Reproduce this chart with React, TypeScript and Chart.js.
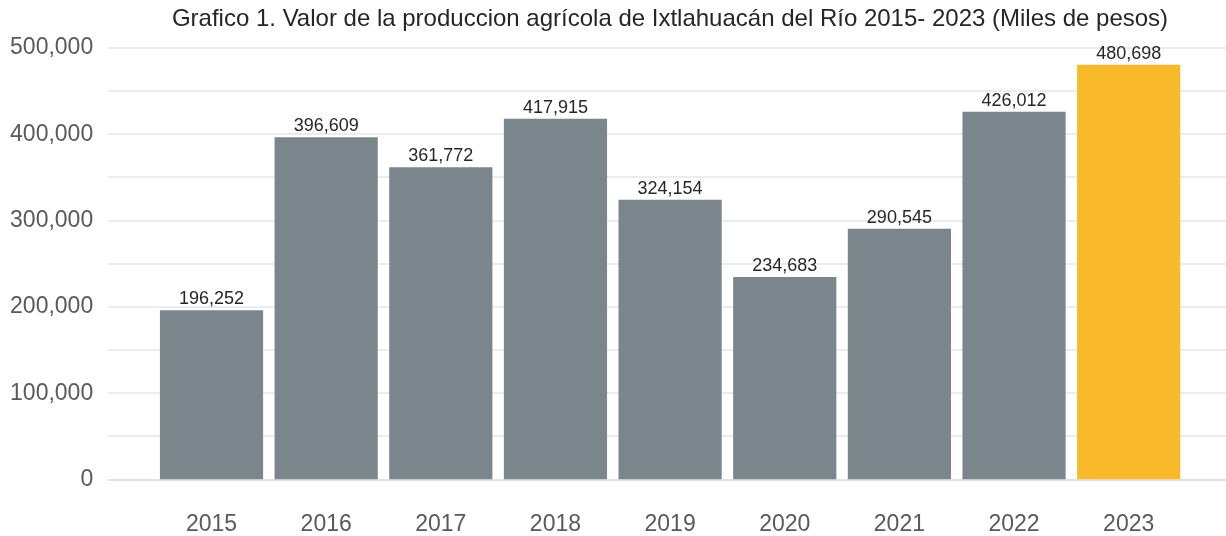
import React, { useEffect, useRef } from "react";
import { Chart, registerables } from "chart.js";

Chart.register(...registerables);

const TITLE = "Grafico 1. Valor de la produccion agrícola de Ixtlahuacán del Río 2015- 2023 (Miles de pesos)";
const years = ["2015", "2016", "2017", "2018", "2019", "2020", "2021", "2022", "2023"];
const values = [196252, 396609, 361772, 417915, 324154, 234683, 290545, 426012, 480698];
const barColors = ["#7b858c", "#7b858c", "#7b858c", "#7b858c", "#7b858c", "#7b858c", "#7b858c", "#7b858c", "#f8ba2b"];
const yMax = 500000;
const yStep = 100000;
const gridStep = 50000;

const FONT = "'Liberation Sans', Arial, sans-serif";

export default function App() {
  const ref = useRef<HTMLCanvasElement | null>(null);
  useEffect(() => {
    document.body.style.margin = "0";
    const canvas = ref.current;
    if (!canvas) return;

    const gridPlugin = {
      id: "extGrid",
      beforeDatasetsDraw(chart: any) {
        const ctx = chart.ctx;
        const y = chart.scales.y;
        ctx.save();
        ctx.lineWidth = 2;
        for (let v = 0; v <= yMax; v += gridStep) {
          const py = Math.round(y.getPixelForValue(v));
          ctx.strokeStyle = v === 0 ? "#e3e3e3" : "#ececec";
          ctx.beginPath();
          ctx.moveTo(108, py);
          ctx.lineTo(1226, py);
          ctx.stroke();
        }
        ctx.restore();
      },
    };

    const labelPlugin = {
      id: "valueLabels",
      afterDatasetsDraw(chart: any) {
        const ctx = chart.ctx;
        const meta = chart.getDatasetMeta(0);
        ctx.save();
        ctx.font = `18px ${FONT}`;
        ctx.fillStyle = "#262626";
        ctx.textAlign = "center";
        ctx.textBaseline = "alphabetic";
        meta.data.forEach((el: any, i: number) => {
          ctx.fillText(values[i].toLocaleString("en-US"), el.x, el.y - 6);
        });
        ctx.restore();
      },
    };

    const titlePlugin = {
      id: "customTitle",
      afterDraw(chart: any) {
        const ctx = chart.ctx;
        ctx.save();
        ctx.font = `24px ${FONT}`;
        ctx.fillStyle = "#262626";
        ctx.textAlign = "center";
        ctx.textBaseline = "middle";
        ctx.fillText(TITLE, 670, 19);
        ctx.restore();
      },
    };

    const chart = new Chart(canvas, {
      type: "bar",
      data: {
        labels: years,
        datasets: [
          {
            data: values,
            backgroundColor: barColors,
            borderWidth: 0,
            barPercentage: 0.9,
            categoryPercentage: 1,
          },
        ],
      },
      options: {
        animation: false,
        responsive: false,
        maintainAspectRatio: false,
        layout: { padding: { top: 48, right: 40, left: 0, bottom: 0 } },
        plugins: {
          legend: { display: false },
          title: { display: false },
          tooltip: { enabled: false },
        },
        scales: {
          x: {
            grid: { display: false, drawTicks: false },
            border: { display: false },
            ticks: {
              color: "#595959",
              font: { family: FONT, size: 23 },
              padding: 31.5,
            },
            afterFit(scale: any) {
              scale.height = 56.5;
              scale.paddingLeft = 0;
              scale.paddingRight = 0;
            },
          },
          y: {
            min: 0,
            max: yMax,
            grid: { display: false, drawTicks: false },
            border: { display: false },
            ticks: {
              stepSize: yStep,
              color: "#595959",
              font: { family: FONT, size: 23 },
              padding: 61,
              callback: (v: any) => Number(v).toLocaleString("en-US"),
            },
            afterFit(scale: any) {
              scale.width = 154.2;
              scale.paddingTop = 0;
              scale.paddingBottom = 0;
            },
          },
        },
      },
      plugins: [gridPlugin, labelPlugin, titlePlugin],
    });
    return () => chart.destroy();
  }, []);

  return (
    <div style={{ position: "absolute", left: 0, top: 0, width: 1226, height: 536 }}>
      <canvas ref={ref} width={1226} height={536} style={{ width: 1226, height: 536 }} />
    </div>
  );
}
